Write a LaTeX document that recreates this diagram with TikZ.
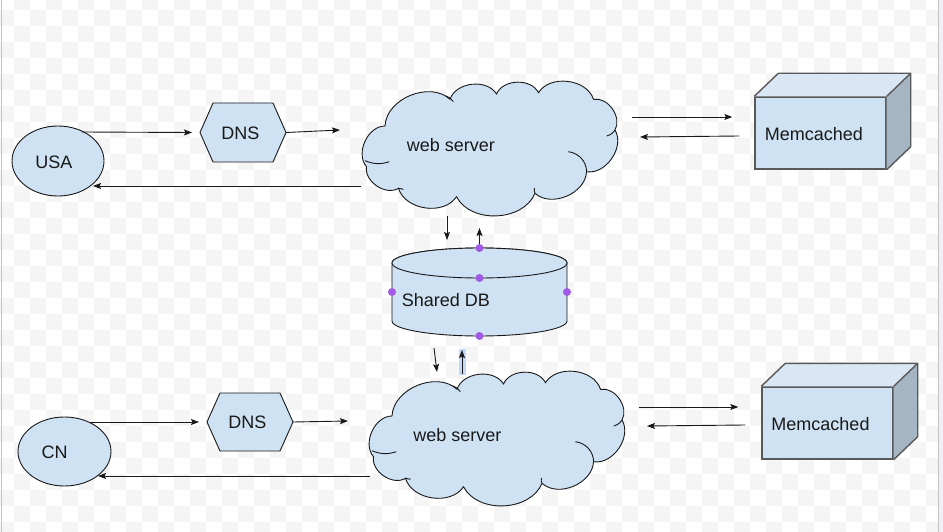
\documentclass[tikz,border=0pt]{standalone}
\usepackage{fontspec}
\setmainfont{Liberation Sans}
\usetikzlibrary{shapes.geometric,arrows.meta,calc}
\definecolor{cfill}{HTML}{CFE2F3}
\definecolor{mtop}{HTML}{D9E7F5}
\definecolor{mside}{HTML}{A6B5C3}
\definecolor{mline}{HTML}{595959}
\definecolor{dotc}{HTML}{A05AE6}
\definecolor{chk}{HTML}{F5F5F5}
\definecolor{edgec}{HTML}{C4C4C4}
\definecolor{selc}{HTML}{C4D9F5}
\definecolor{outc}{HTML}{EEF1F6}
\tikzset{
 shapeline/.style={draw=black!90, line width=0.9pt, fill=cfill},
 lbl/.style={font=\fontsize{18}{21}\selectfont, text=black!90, inner sep=0pt},
 arr/.style={-{Stealth[length=8pt,width=6pt,inset=1.5pt]}, line width=0.9pt, draw=black!90},
 anchorbox/.style={inner sep=0pt, outer sep=0pt, draw=none},
 membox/.style={draw=mline, line width=1.4pt, fill=cfill, inner sep=0pt, minimum width=131pt, minimum height=72pt},
 dbdot/.style={circle, fill=dotc, inner sep=0pt, minimum size=8pt},
 bump/.style={bend left=65, looseness=1.0},
 innerstroke/.style={draw=black!90, line width=0.9pt},
}
\newcommand\cloudshape[1]{%
 \begin{scope}[shift={#1}]
  \draw[shapeline] (-106.5,-21) to[bump] (-41.5,-47.7) to[bump] (5,-53) to[bump] (47,-54.3)
   to[bump] (102,-47.7) to[bump] (123.5,-17) to[bump] (95,24.7) to[bump] (43.5,46.3)
   to[bump] (-35,49.7) to[bump] (-93,41.3) to[bump] (-125,19.7) to[bump] (-106.5,-21) -- cycle;
  \draw[innerstroke] (-126.5,13.7) to[bend right=20] (-102.2,14.7);
  \draw[innerstroke] (-45.5,-51) to[bend left=20] (-38.2,-45.3);
  \draw[innerstroke] (123.5,-17) to[bend left=20] (115.2,-11);
  \draw[innerstroke] (76.8,4.7) to[bend left=40] (95.2,24.7);
  \draw[innerstroke] (43.5,46.3) to[bend left=20] (43,41);
  \draw[innerstroke] (-93,41.3) to[bend right=20] (-88,42.3);
 \end{scope}}
\newcommand\memcube[1]{%
  \fill[mtop] (#1.north west) -- ++(24,-23) -- ($(#1.north east)+(24,-23)$) -- (#1.north east) -- cycle;
  \fill[mside] (#1.north east) -- ++(24,-23) -- ($(#1.south east)+(24,-23)$) -- (#1.south east) -- cycle;
  \draw[mline, line width=1.4pt, line join=round] (#1.north west) -- ++(24,-23) -- ($(#1.north east)+(24,-23)$) -- ($(#1.south east)+(24,-23)$) -- (#1.south east);
  \draw[mline, line width=1.4pt] (#1.north east) -- ++(24,-23);
}
\begin{document}
\begin{tikzpicture}[x=1pt,y=-1pt]
\useasboundingbox (0,0) rectangle (943,532);
% background
\fill[white] (0,0) rectangle (943,532);
\foreach \j in {0,...,33} {
  \pgfmathtruncatemacro\st{mod(\j+1,2)}
  \pgfmathtruncatemacro\stt{\st+2}
  \foreach \i in {\st,\stt,...,59} {
    \fill[chk] (-2+16*\i,-6+16*\j) rectangle ++(16,16);
  }
}
\fill[outc] (938.5,0) rectangle (943,532);
\draw[edgec, line width=1pt] (938,0) -- (938,532);
\draw[edgec, line width=1pt] (1.5,0) -- (1.5,532);

% ---------- top row ----------
\node[ellipse, shapeline, minimum width=92pt, minimum height=70pt, inner sep=0pt] (usa) at (58,161) {};
\node[lbl] (usat) at (54,162.5) {USA};

\node[anchorbox, minimum width=86pt, minimum height=59pt] (dns1) at (243,132.5) {};
\draw[shapeline] (dns1.west) -- ([xshift=13pt]dns1.north west) -- ([xshift=-13pt]dns1.north east) -- (dns1.east) -- ([xshift=-13pt]dns1.south east) -- ([xshift=13pt]dns1.south west) -- cycle;
\node[lbl] (dns1t) at (240.5,133.3) {DNS};

\node[anchorbox, minimum width=263pt, minimum height=134pt] (ws1) at (491.5,147) {};
\cloudshape{(491.5,147)}
\node[lbl] (ws1t) at (450.8,145) {web server};

\node[membox] (mem1) at (820.5,133) {};
\memcube{mem1}
\node[lbl] (mem1t) at (813.8,134.2) {Memcached};

% ---------- shared DB ----------
\node[anchorbox, minimum width=175pt, minimum height=88pt] (db) at (479.5,292) {};
\draw[shapeline] (db.west |- 0,263) -- (db.west |- 0,321) arc[start angle=180, end angle=0, x radius=87.5, y radius=15]
  -- (db.east |- 0,263) arc[start angle=0, end angle=-180, x radius=87.5, y radius=15] -- cycle;
\draw[shapeline] (479.5,263) ellipse[x radius=87.5, y radius=15];
\node[lbl] (dbt) at (445.8,300) {Shared DB};

% ---------- bottom row ----------
\node[ellipse, shapeline, minimum width=93pt, minimum height=69pt, inner sep=0pt] (cn) at (64.5,451.5) {};
\node[lbl] (cnt) at (54.7,452) {CN};

\node[anchorbox, minimum width=86pt, minimum height=58pt] (dns2) at (250,422) {};
\draw[shapeline] (dns2.west) -- ([xshift=13pt]dns2.north west) -- ([xshift=-13pt]dns2.north east) -- (dns2.east) -- ([xshift=-13pt]dns2.south east) -- ([xshift=13pt]dns2.south west) -- cycle;
\node[lbl] (dns2t) at (247.5,422.3) {DNS};

\node[anchorbox, minimum width=263pt, minimum height=134pt] (ws2) at (498.5,437) {};
\cloudshape{(498.5,437)}
\node[lbl] (ws2t) at (457.5,435) {web server};

\node[membox] (mem2) at (827.5,423) {};
\memcube{mem2}
\node[lbl] (mem2t) at (820.5,423.7) {Memcached};

% ---------- connectors ----------
\draw[arr] ($(usa.center)+(24,-29)$) -- ($(dns1.west)+(-8,0)$);
\draw[arr] (dns1.east) -- ($(ws1.west)+(-20,-17)$);
\draw[arr] ($(ws1.west)+(1,39)$) -- ($(usa.center)+(35,25)$);
\draw[arr] ($(ws1.east)+(9,-30)$) -- ($(mem1.west)+(-22,-16)$);
\draw[arr] ($(mem1.west)+(-15,3)$) -- ($(ws1.east)+(17,-10)$);

\draw[arr] ($(db.north)+(-32.5,-32)$) -- ($(db.north)+(-32.5,-8)$);
\draw[arr] (db.north) -- ($(db.north)+(0,-20)$);
\draw[arr] ($(db.south)+(-45.5,12)$) -- ($(db.south)+(-42.5,36)$);
\fill[selc] (459,349) rectangle (465.5,375);
\draw[arr] ($(db.south)+(-17.5,38)$) -- ($(db.south)+(-17.5,14)$);

\draw[arr] ($(cn.center)+(25.5,-29.5)$) -- ($(dns2.west)+(-8,0)$);
\draw[arr] (dns2.east) -- ($(ws2.west)+(-19,-16)$);
\draw[arr] ($(ws2.west)+(3,39)$) -- ($(cn.center)+(33.5,24.5)$);
\draw[arr] ($(ws2.east)+(9,-30)$) -- ($(mem2.west)+(-23,-16)$);
\draw[arr] ($(mem2.west)+(-16,2)$) -- ($(ws2.east)+(17,-11)$);

% DB connection dots
\node[dbdot] (d1) at (db.north) {};
\node[dbdot] (d2) at (479.5,278) {};
\node[dbdot] (d3) at (db.west) {};
\node[dbdot] (d4) at (db.east) {};
\node[dbdot] (d5) at (db.south) {};
\end{tikzpicture}
\end{document}
